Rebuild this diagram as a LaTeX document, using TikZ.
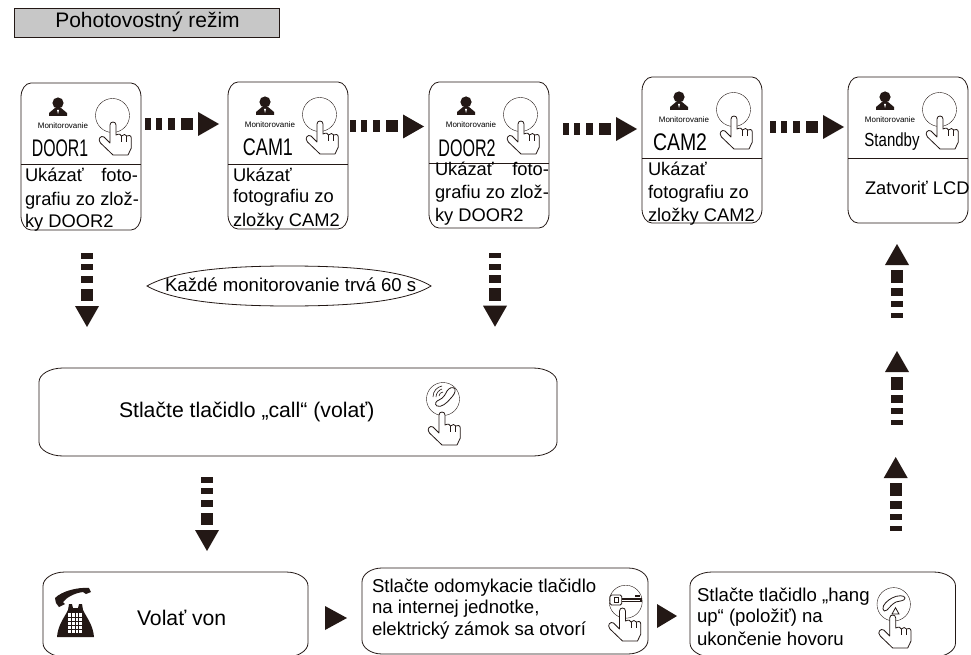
\documentclass[tikz,border=0pt]{standalone}
\usepackage{fontspec}
\setmainfont{Liberation Sans}
\usetikzlibrary{shapes.geometric}
\definecolor{ink}{HTML}{231815}
\tikzset{
  x=1pt,y=-1pt,
  line width=.75pt,
  every node/.style={text=black,inner sep=0pt,outer sep=0pt},
  body/.style={font=\fontsize{18.3}{22}\selectfont,anchor=base west},
  bodyb/.style={font=\fontsize{18.6}{22}\selectfont,anchor=base west},
  big/.style={font=\fontsize{21.2}{24}\selectfont,anchor=base west},
  tiny/.style={font=\fontsize{8}{9}\selectfont},
  pics/flowarrow/.style={code={
    \fill[ink] (0,-6) rectangle (5.5,6);
    \fill[ink] (11,-6) rectangle (17,6);
    \fill[ink] (22.5,-6) rectangle (30,6);
    \fill[ink] (35.5,-6) rectangle (48,6);
    \fill[ink] (53,-12) -- (74,0) -- (53,12) -- cycle;
  }},
  pics/hand/.style={code={
    \draw[ink,fill=white,line width=.8pt,line join=round] (-3,3) .. controls (-3,-1) and (3,-1) .. (3,3)
      -- (3,13) .. controls (6,11.5) and (8,12) .. (8.5,14) .. controls (10,12) and (13,12) .. (13.8,14)
      .. controls (15,13) and (18.3,13) .. (18.3,16) -- (18.3,26) -- (15,33) -- (0,33)
      -- (-12.5,21) .. controls (-16,17) and (-12,13) .. (-9,15) -- (-3,21) -- cycle;
    \draw[ink,line width=.7pt] (8.5,14) -- (8.5,20) (13.8,14) -- (13.8,20);
  }},
  pics/person/.style={code={
    \fill[ink] (0,0) circle[radius=5.6];
    \fill[ink] (-3,5) -- (3,5) -- (9,10) -- (9,13) -- (-9,13) -- (-9,10) -- cycle;
    \fill[white] (-1,7) -- (1,7) -- (0,11) -- cycle;
  }}
}
\newcommand{\softbox}[7]{% name,x,y,w,h,rx,ry
  \path[fill=white,draw=ink,line width=.8pt]
    (#2,#3+#7) .. controls (#2,#3+.45*#7) and (#2+.45*#6,#3) .. (#2+#6,#3)
    -- (#2+#4-#6,#3) .. controls (#2+#4-.45*#6,#3) and (#2+#4,#3+.45*#7) .. (#2+#4,#3+#7)
    -- (#2+#4,#3+#5-#7) .. controls (#2+#4,#3+#5-.45*#7) and (#2+#4-.45*#6,#3+#5) .. (#2+#4-#6,#3+#5)
    -- (#2+#6,#3+#5) .. controls (#2+.45*#6,#3+#5) and (#2,#3+#5-.45*#7) .. (#2,#3+#5-#7) -- cycle;
  \node[minimum width=#4pt,minimum height=#5pt,anchor=north west] (#1) at (#2,#3) {};
}
\newcommand{\cardbox}[9]{% name,x,top,height,label position,label,hscale,label size,divider
  \softbox{#1}{#2}{#3}{120}{#4}{10}{14}
  \coordinate (#1L) at (#2,#9);
  \coordinate (#1R) at (#2+120,#9);
  \draw[ink] (#1L) -- (#1R);
  \begin{scope}[shift={(#2,#3)}]
    \pic at (37,20) {person};
    \node[tiny] (#1mon) at (42,43) {Monitorovanie};
    \draw[ink] (91.5,32.5) circle[radius=17];
    \pic at (92,39) {hand};
    \node[anchor=base,font=\fontsize{#8}{24}\selectfont] (#1lab) at (#5) {\scalebox{#7}[1]{#6}};
  \end{scope}
}
\begin{document}
\begin{tikzpicture}
\useasboundingbox (0,0) rectangle (971,655);
\clip (0,0) rectangle (971,655);
\fill[white] (0,0) rectangle (971,655);

\node[draw=ink,fill=black!22,minimum width=265pt,minimum height=28.5pt,anchor=north west] (title) at (14.5,8.5) {};
\node[anchor=base,font=\fontsize{21}{24}\selectfont] (titlet) at (147.5,28) {Pohotovostný režim};

\cardbox{door1}{21}{83}{147}{39,74}{DOOR1}{.66}{24}{164}
\cardbox{cam1}{228}{82}{147}{40,74}{CAM1}{.75}{24}{164}
\cardbox{door2}{429}{82}{146}{38,75}{DOOR2}{.67}{24}{163}
\cardbox{cam2}{642}{77}{146}{38,74}{CAM2}{.81}{24}{158}
\cardbox{standby}{848}{77}{146}{44,70}{Standby}{.79}{19}{158}

\node[body] (t1a) at (25,182) {\makebox[113pt][s]{Ukázať\hfill foto-}};
\node[body] (t1b) at (25,205) {grafiu zo zlož-};
\node[body] (t1c) at (25,227) {ky DOOR2};
\node[body] (t2a) at (233,182) {Ukázať};
\node[body] (t2b) at (233,203) {fotografiu zo};
\node[body] (t2c) at (233,226) {zložky CAM2};
\node[body] (t3a) at (435,176) {\makebox[114pt][s]{Ukázať\hfill foto-}};
\node[body] (t3b) at (435,199) {grafiu zo zlož-};
\node[body] (t3c) at (435,222) {ky DOOR2};
\node[body] (t4a) at (648,176) {Ukázať};
\node[body] (t4b) at (648,198) {fotografiu zo};
\node[body] (t4c) at (648,221) {zložky CAM2};
\node[body] (t5) at (865,195) {Zatvoriť LCD};

\path[draw=ink,line width=.8pt] (147,286) .. controls (175,270) and (230,266) .. (289,266)
  .. controls (350,266) and (405,270) .. (431,286) .. controls (405,302) and (350,306) .. (289,306)
  .. controls (230,306) and (175,302) .. (147,286) -- cycle;
\node[bodyb] (note) at (165,291) {Každé monitorovanie trvá 60 s};

\softbox{call}{39}{368}{518}{88}{24}{14}
\node[big] (callt) at (119,417) {Stlačte tlačidlo „call“ (volať)};
\draw[ink] (443,399) circle[radius=16.5];
\draw[ink,line width=.8pt,line join=round] (437,406) .. controls (434,404) and (436,401) .. (439,400)
  .. controls (444,398) and (446,393) .. (447,391) .. controls (449,388) and (453,386) .. (455,389)
  .. controls (456,392) and (453,396) .. (451,398) .. controls (447,403) and (441,408) .. (437,406) -- cycle;
\draw[ink,line width=.6pt] (433,397) .. controls (433,391) and (437,387) .. (442,386)
  (436,397) .. controls (436,393) and (439,390) .. (442,389)
  (439,396) .. controls (439,394) and (441,392) .. (443,392);
\pic at (442,412) {hand};

\softbox{out}{43}{572}{265}{85}{22}{14}
\node[big] (outt) at (137,625) {Volať von};
\fill[ink] (55,598) .. controls (62,591) and (78,587) .. (89,588) -- (91,592) -- (86,594) -- (83,592) .. controls (75,593) and (67,597) .. (63,602) -- (65,604) -- (59,607) -- (56,603) -- cycle;
\fill[ink] (69,604) -- (72,604) -- (73,608) -- (78,608) -- (79,604) -- (82,604) -- (83,610) .. controls (87,618) and (93,625) .. (94,637) -- (57,637) .. controls (58,625) and (64,618) .. (68,610) -- cycle;
\fill[white] (68,613) rectangle (82,633);
\foreach \a in {71.5,75,78.5} \draw[ink,line width=.8pt] (\a,613) -- (\a,633);
\foreach \b in {617,621,625,629} \draw[ink,line width=.8pt] (68,\b) -- (82,\b);

\softbox{unlock}{362}{568}{286}{86}{20}{14}
\node[bodyb] (u1) at (372,592) {Stlačte odomykacie tlačidlo};
\node[bodyb] (u2) at (372,613) {na internej jednotke,};
\node[bodyb] (u3) at (372,635) {elektrický zámok sa otvorí};
\draw[ink] (625.7,601.7) circle[radius=16.5];
\draw[ink,fill=white,line width=.9pt,rounded corners=1.5pt] (610,595) rectangle (621.7,605);
\draw[ink,line width=.8pt] (614,597.5) rectangle (618,602.5);
\fill[ink] (621.7,598) rectangle (641.7,602);
\fill[white] (622,599.6) rectangle (640,600.4);
\fill[ink] (635,595.4) rectangle (640,596.6);
\pic at (622.5,608) {hand};

\softbox{hang}{690}{572}{265.5}{85}{22}{14}
\node[bodyb] (h1) at (697,601) {Stlačte tlačidlo „hang};
\node[bodyb] (h2) at (697,622) {up“ (položiť) na};
\node[bodyb] (h3) at (697,645) {ukončenie hovoru};
\draw[ink] (893.7,604.3) circle[radius=16.7];
\draw[ink,line width=.8pt,line join=round] (883,609) .. controls (882,605) and (888,600) .. (892,598) .. controls (897,595) and (905,595) .. (905,598) .. controls (905,601) and (899,601) .. (896,602) .. controls (892,604) and (890,607) .. (887,610) .. controls (885,612) and (883,611) .. (883,609) -- cycle;
\draw[ink,line width=.8pt] (892,614) -- (899,614) -- (895.5,607.7) -- cycle;
\pic at (892.7,615) {hand};

% flow arrows
\coordinate (a1) at (145,124);
\coordinate (a2) at (350,126.5);
\coordinate (a3) at (563,129);
\coordinate (a4) at (770,127);
\coordinate (v1) at (87,253);
\coordinate (v2) at (495,252.7);
\coordinate (v3) at (207,477);
\coordinate (u1) at (897,318);
\coordinate (u2) at (897,425);
\coordinate (u3) at (895.7,531);
\foreach \p in {a1,a2,a3,a4} \pic at (\p) {flowarrow};
\foreach \p in {v1,v2,v3} \pic[rotate=-90] at (\p) {flowarrow};
\foreach \p in {u1,u2,u3} \pic[rotate=90] at (\p) {flowarrow};

\fill[ink] (325,606) -- (347,618) -- (325,630) -- cycle;
\fill[ink] (657,604) -- (677,616) -- (657,628) -- cycle;
\end{tikzpicture}
\end{document}
